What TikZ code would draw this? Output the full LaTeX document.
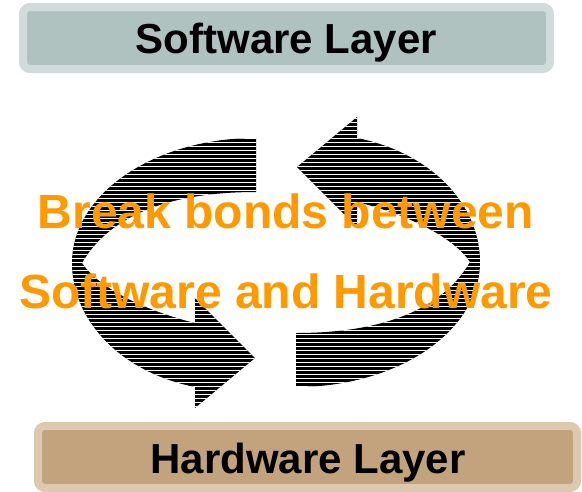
\documentclass[tikz,border=0pt]{standalone}
\usepackage{fontspec}
\setmainfont{Liberation Sans}
\definecolor{swfill}{HTML}{B0C2BF}
\definecolor{swedge}{HTML}{D0DBDA}
\definecolor{hwfill}{HTML}{C2A37D}
\definecolor{hwedge}{HTML}{DCC9B0}
\definecolor{bondorange}{HTML}{FF9900}
\tikzset{
  layerbox/.style={rectangle, rounded corners=7pt, line width=8pt, inner sep=0pt,
    text=black, font=\fontsize{42}{50}\selectfont\bfseries},
  bondtext/.style={text=bondorange, font=\fontsize{48}{56}\selectfont\bfseries, inner sep=0pt},
  cyclearrow/.pic={
    \fill[black] (256,138) .. controls (154,138) and (72,194) .. (72,263)
      .. controls (72,320) and (120,372) .. (195,387) -- (195,408) -- (255,358)
      -- (195,298) -- (195,323) .. controls (150,312) and (100,290) .. (82,263)
      .. controls (108,218) and (165,192) .. (256,192) -- cycle;
    \begin{scope}
      \clip (256,138) .. controls (154,138) and (72,194) .. (72,263)
        .. controls (72,320) and (120,372) .. (195,387) -- (195,408) -- (255,358)
        -- (195,298) -- (195,323) .. controls (150,312) and (100,290) .. (82,263)
        .. controls (108,218) and (165,192) .. (256,192) -- cycle;
      \foreach \k in {0,...,80}
        \draw[white, line width=1pt] (40,{110.5+4*\k}) -- (300,{110.5+4*\k});
    \end{scope}
  }
}
\begin{document}
\begin{tikzpicture}[x=1pt, y=-1pt]
  \useasboundingbox (0,0) rectangle (582,491);

  % layer boxes
  \node[layerbox, draw=swedge, fill=swfill, minimum width=527pt, minimum height=62pt]
    (sw) at (286.5,38) {};
  \node[anchor=base, text=black, font=\fontsize{42}{50}\selectfont\bfseries]
    (swlabel) at (286.5,53) {Software Layer};

  \node[layerbox, draw=hwedge, fill=hwfill, minimum width=539pt, minimum height=62pt]
    (hw) at (307.5,457) {};
  \node[anchor=base, text=black, font=\fontsize{42}{50}\selectfont\bfseries]
    (hwlabel) at (308,473) {Hardware Layer};

  % the two curved arrows forming a cycle
  \pic (leftarrow) at (0,0) {cyclearrow};
  \pic[rotate=180] (rightarrow) at (552,525) {cyclearrow};

  % central statement
  \node[bondtext, anchor=base] (bond1) at (286,228) {Break bonds between};
  \node[bondtext, anchor=base] (bond2) at (286,308) {Software and Hardware};
\end{tikzpicture}
\end{document}
